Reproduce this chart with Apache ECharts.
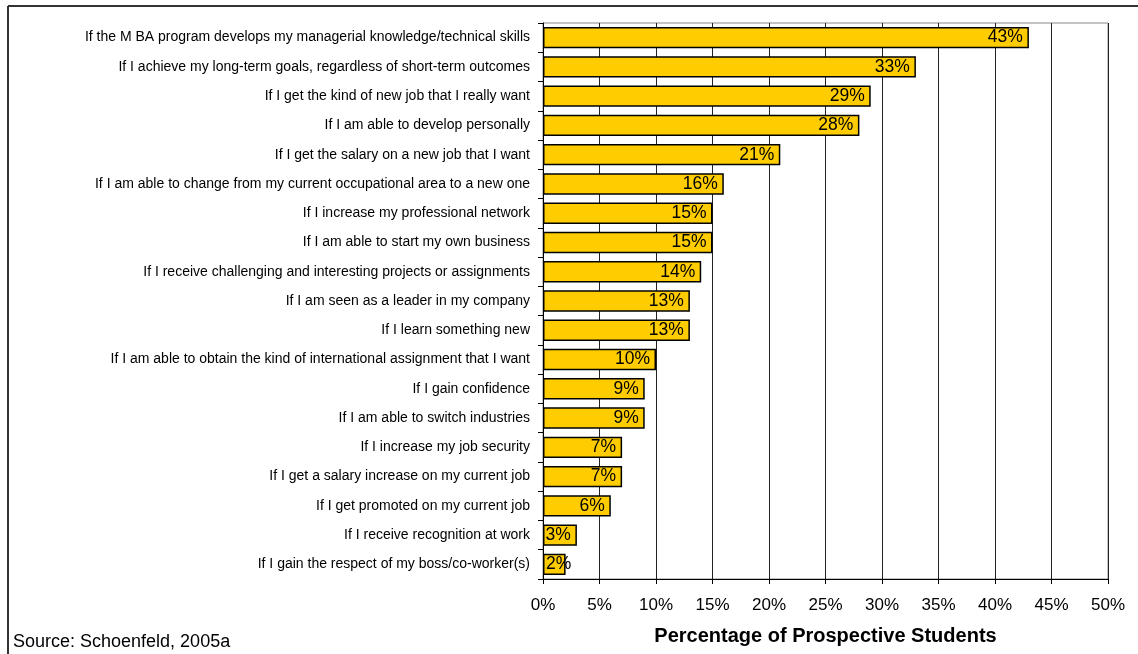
<!DOCTYPE html>
<html>
<head>
<meta charset="utf-8">
<script src="https://cdn.jsdelivr.net/npm/echarts@6/dist/echarts.min.js"></script>
<style>
  html, body { margin: 0; padding: 0; background: #fff; }
  #chart { width: 1138px; height: 654px; }
</style>
</head>
<body>
<div id="chart"></div>
<script>
var categories = [
    'If the M BA program develops my managerial knowledge/technical skills',
    'If I achieve my long-term goals, regardless of short-term outcomes',
    'If I get the kind of new job that I really want',
    'If I am able to develop personally',
    'If I get the salary on a new job that I want',
    'If I am able to change from my current occupational area to a new one',
    'If I increase my professional network',
    'If I am able to start my own business',
    'If I receive challenging and interesting projects or assignments',
    'If I am seen as a leader in my company',
    'If I learn something new',
    'If I am able to obtain the kind of international assignment that I want',
    'If I gain confidence',
    'If I am able to switch industries',
    'If I increase my job security',
    'If I get a salary increase on my current job',
    'If I get promoted on my current job',
    'If I receive recognition at work',
    'If I gain the respect of my boss/co-worker(s)'
];
var values = [43, 33, 29, 28, 21, 16, 15, 15, 14, 13, 13, 10, 9, 9, 7, 7, 6, 3, 2];
var xTicks = [0, 5, 10, 15, 20, 25, 30, 35, 40, 45, 50];

var myChart = echarts.init(document.getElementById('chart'));

var barData = values.map(function (v) {
    var item = { value: v };
    // tiny bar: label spills past the end, like the original
    if (v < 3) {
        item.label = { position: 'insideLeft', distance: 3 };
    }
    return item;
});

myChart.setOption({
    backgroundColor: '#fff',
    animation: false,
    textStyle: { fontFamily: 'Arial, "Liberation Sans", sans-serif' },
    grid: {
        left: 543,
        right: 30,
        top: 23,
        bottom: 75,
        show: true,
        borderColor: '#888',
        borderWidth: 1
    },
    xAxis: {
        type: 'value',
        min: xTicks[0],
        max: xTicks[xTicks.length - 1],
        interval: 5,
        name: 'Percentage of Prospective Students',
        nameLocation: 'middle',
        nameGap: 47,
        nameTextStyle: { fontSize: 20, fontWeight: 'bold', color: '#000' },
        axisLine: { show: true, lineStyle: { color: '#000', width: 1 } },
        axisTick: { show: true, length: 5, lineStyle: { color: '#000' } },
        axisLabel: {
            color: '#000',
            fontSize: 17,
            margin: 18,
            formatter: function (v) { return v + '%'; }
        },
        splitLine: { show: true, lineStyle: { color: '#222', width: 1 } }
    },
    yAxis: {
        type: 'category',
        data: categories,
        inverse: true,
        axisLine: { show: true, lineStyle: { color: '#000', width: 1 } },
        axisTick: { show: true, length: 5, lineStyle: { color: '#000' } },
        axisLabel: { color: '#000', fontSize: 14, margin: 13 },
        splitLine: { show: false }
    },
    series: [{
        type: 'bar',
        data: barData,
        barCategoryGap: '27%',
        itemStyle: {
            color: '#FFCC00',
            borderColor: '#000',
            borderWidth: 1.5
        },
        label: {
            show: true,
            position: 'insideRight',
            distance: 6,
            color: '#000',
            fontSize: 17.5,
            formatter: '{c}%'
        }
    }],
    graphic: [
        {
            type: 'line',
            shape: { x1: 8, y1: 6, x2: 1138, y2: 6 },
            style: { stroke: '#333', lineWidth: 2 }
        },
        {
            type: 'line',
            shape: { x1: 8, y1: 6, x2: 8, y2: 654 },
            style: { stroke: '#333', lineWidth: 2 }
        },
        {
            type: 'text',
            left: 13,
            top: 633,
            style: {
                text: 'Source: Schoenfeld, 2005a',
                fill: '#000',
                font: '18px Arial, "Liberation Sans", sans-serif'
            }
        }
    ]
});
</script>
</body>
</html>
